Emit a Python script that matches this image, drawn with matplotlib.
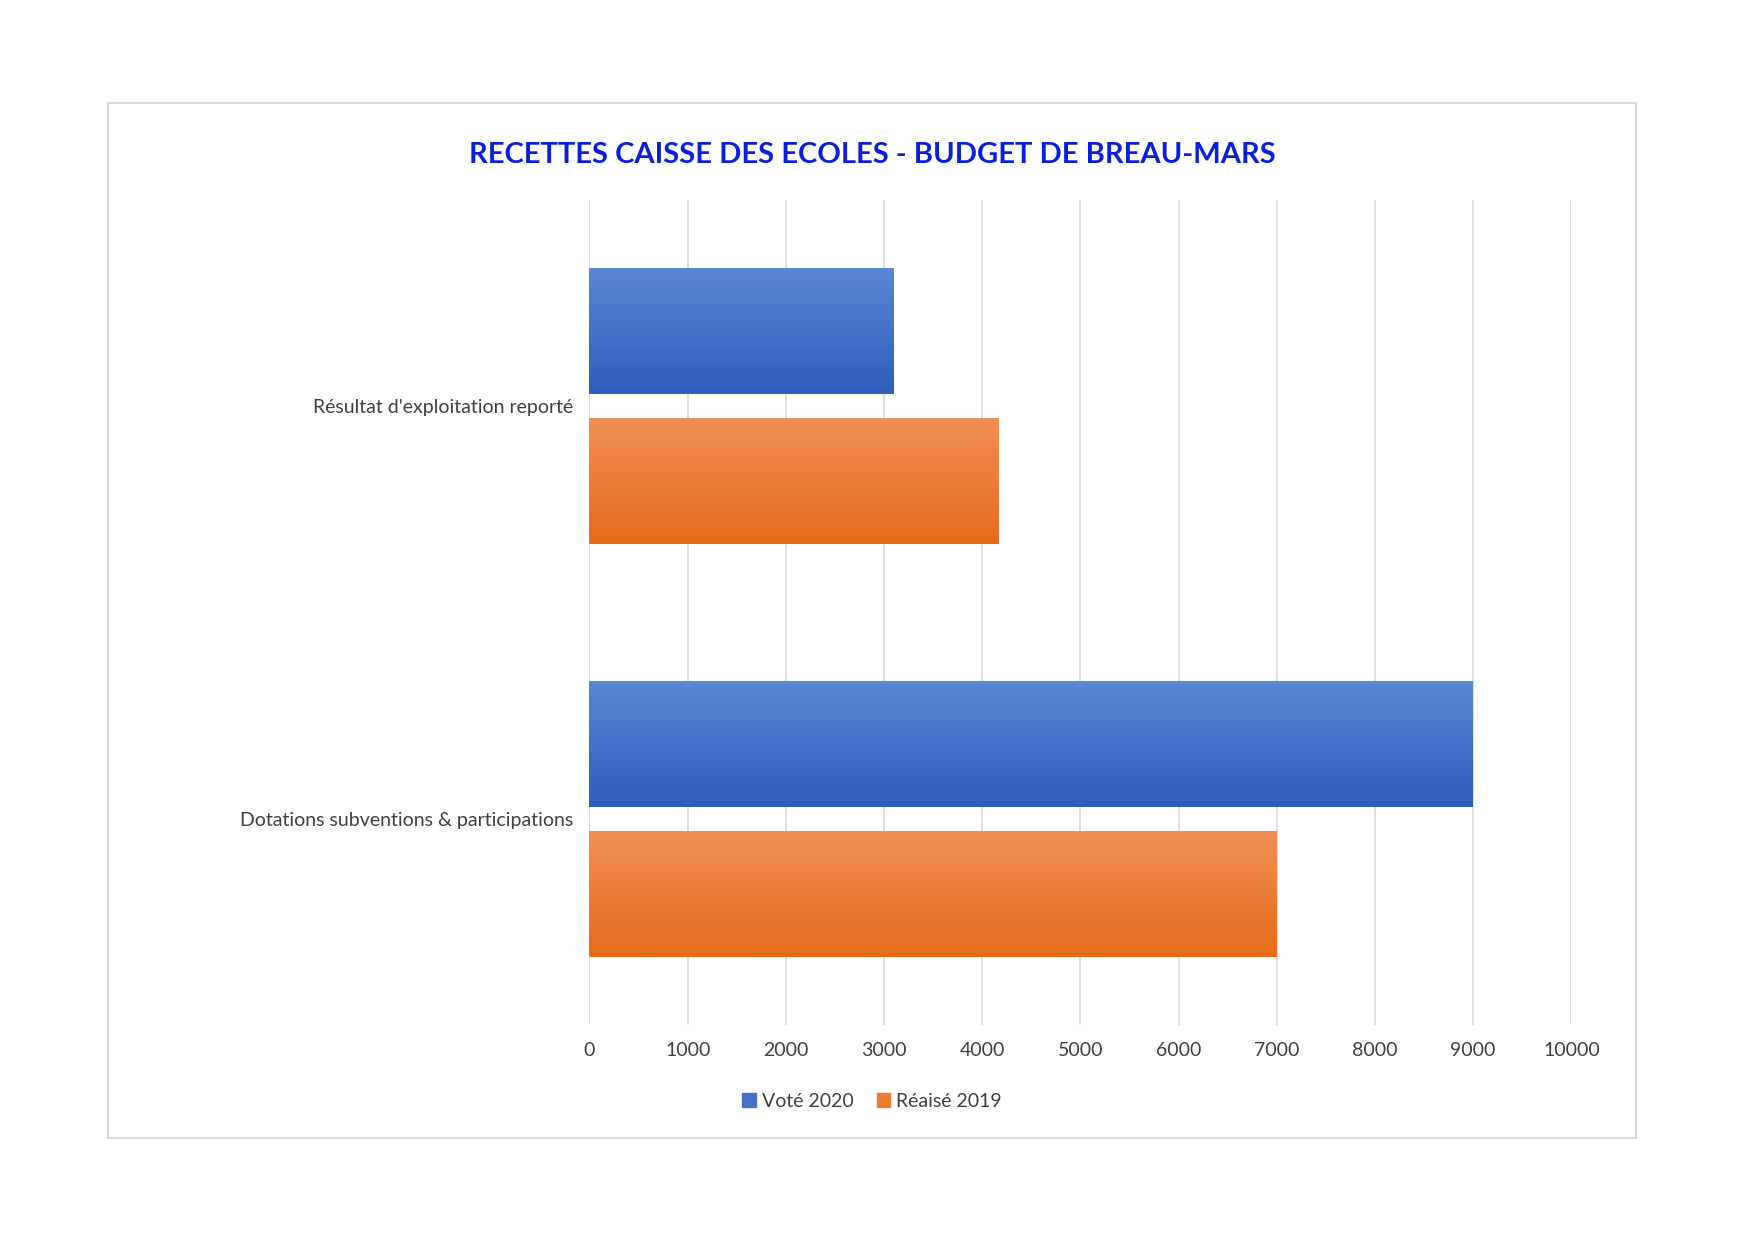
import matplotlib
matplotlib.use("Agg")
import matplotlib.pyplot as plt
import numpy as np
from matplotlib.patches import Rectangle, Patch

categories = ["Dotations subventions & participations", "Résultat d'exploitation reporté"]
vote_2020 = [9000, 3100]
realise_2019 = [7000, 4170]
series_names = ["Voté 2020", "Réaisé 2019"]
xticks = list(range(0, 10001, 1000))

plt.rcParams["font.family"] = "Lato"
fig = plt.figure(figsize=(17.44, 12.40), dpi=100)
fig.patches.append(Rectangle((0.062, 0.082), 0.876, 0.835, transform=fig.transFigure,
                             fill=False, edgecolor="#d9d9d9", linewidth=1.5))
ax = fig.add_axes([0.338, 0.173, 0.563, 0.666])
y = np.arange(len(categories))
h = 0.305
off = 0.181
blue_top, blue_bot = np.array([0x5b, 0x86, 0xd3]) / 255, np.array([0x2e, 0x5e, 0xbd]) / 255
or_top, or_bot = np.array([0xf1, 0x8e, 0x55]) / 255, np.array([0xe5, 0x6b, 0x1a]) / 255

def grad_bars(yc, vals, ctop, cbot):
    bars = ax.barh(yc, vals, height=h, color="none", edgecolor="none", zorder=3)
    grad = np.linspace(0, 1, 64)[:, None, None]
    img = ctop * (1 - grad) + cbot * grad
    for b in bars:
        x0, y0, w, hh = b.get_x(), b.get_y(), b.get_width(), b.get_height()
        ax.imshow(img, extent=(x0, x0 + w, y0, y0 + hh), origin="upper",
                  aspect="auto", zorder=3)
    return bars

grad_bars(y + off, vote_2020, blue_top, blue_bot)
grad_bars(y - off, realise_2019, or_top, or_bot)
ax.set_xlim(0, 10000)
ax.set_ylim(-0.5, 1.5)
ax.set_xticks(xticks)
ax.set_xticklabels([str(t) for t in xticks], fontsize=14, color="#404040")
ax.set_yticks(y)
ax.set_yticklabels(categories, fontsize=14, color="#404040")
ax.tick_params(length=0, pad=12)
ax.grid(axis="x", color="#d9d9d9", linewidth=1.2, zorder=0)
for s in ax.spines.values():
    s.set_visible(False)
fig.text(0.5, 0.875, "RECETTES CAISSE DES ECOLES - BUDGET DE BREAU-MARS", ha="center",
         va="center", fontsize=21, fontweight="bold", color="#0a1ee0")
fig.legend(handles=[Patch(color="#4472c4", label=series_names[0]),
                    Patch(color="#ed7d31", label=series_names[1])],
           loc="center", bbox_to_anchor=(0.5, 0.112), ncol=2, frameon=False,
           fontsize=14, handlelength=0.7, handleheight=0.7, handletextpad=0.3,
           columnspacing=1.2, labelcolor="#404040")
fig.savefig("out.png", dpi=100, facecolor="white")
